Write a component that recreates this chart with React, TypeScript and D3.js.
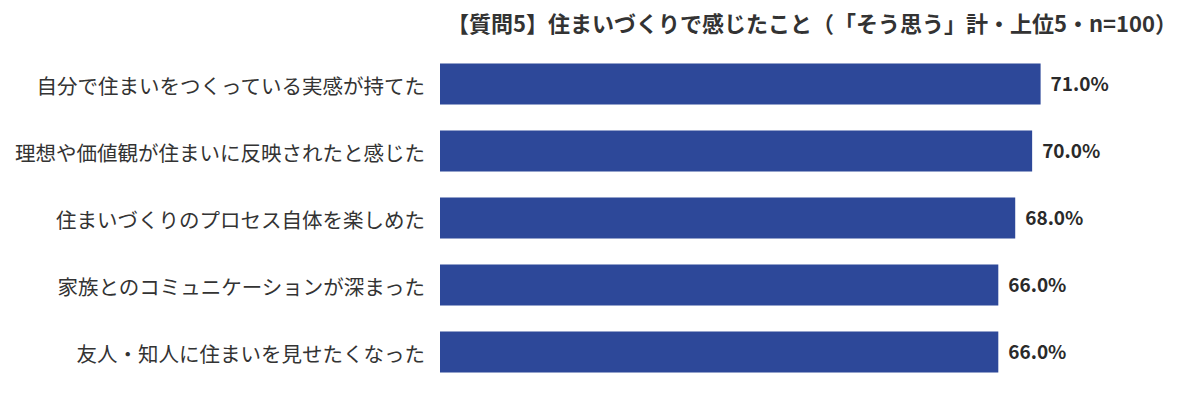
import React from "react";
import * as d3 from "d3";

const categories = [
  "自分で住まいをつくっている実感が持てた",
  "理想や価値観が住まいに反映されたと感じた",
  "住まいづくりのプロセス自体を楽しめた",
  "家族とのコミュニケーションが深まった",
  "友人・知人に住まいを見せたくなった",
];
const values = [71.0, 70.0, 68.0, 66.0, 66.0];
const title = "【質問5】住まいづくりで感じたこと（「そう思う」計・上位5・n=100）";

const W = 1200;
const H = 402;
const FONT = "'Noto Sans CJK JP', 'Noto Sans', sans-serif";

export default function App() {
  const x = d3.scaleLinear().domain([0, 71]).range([440, 1040.6]);
  const y = d3
    .scaleBand<string>()
    .domain(categories)
    .range([50.5, 385.5])
    .paddingInner(0.388)
    .paddingOuter(0.194);
  return (
    <svg
      width={W}
      height={H}
      style={{ position: "absolute", left: 0, top: 0, background: "#fff" }}
      fontFamily={FONT}
    >
      <text
        x={812}
        y={32}
        textAnchor="middle"
        fontSize={22}
        fontWeight={700}
        fill="#333"
        style={{ textSpacingTrim: "space-all" } as any}
      >
        {title}
      </text>
      {categories.map((c, i) => {
        const yy = y(c)!;
        const bh = y.bandwidth();
        const v = values[i];
        return (
          <g key={c}>
            <rect x={x(0)} y={yy} width={x(v) - x(0)} height={bh} fill="#2d4899" />
            <text
              x={425}
              y={yy + bh / 2 + 1}
              textAnchor="end"
              dominantBaseline="central"
              fontSize={20.5}
              fill="#333"
            >
              {c}
            </text>
            <text
              x={x(v) + 10}
              y={yy + bh / 2 + 6.5}
              fontSize={19}
              fontWeight={700}
              fill="#2a2a2a"
            >
              {v.toFixed(1) + "%"}
            </text>
          </g>
        );
      })}
    </svg>
  );
}
